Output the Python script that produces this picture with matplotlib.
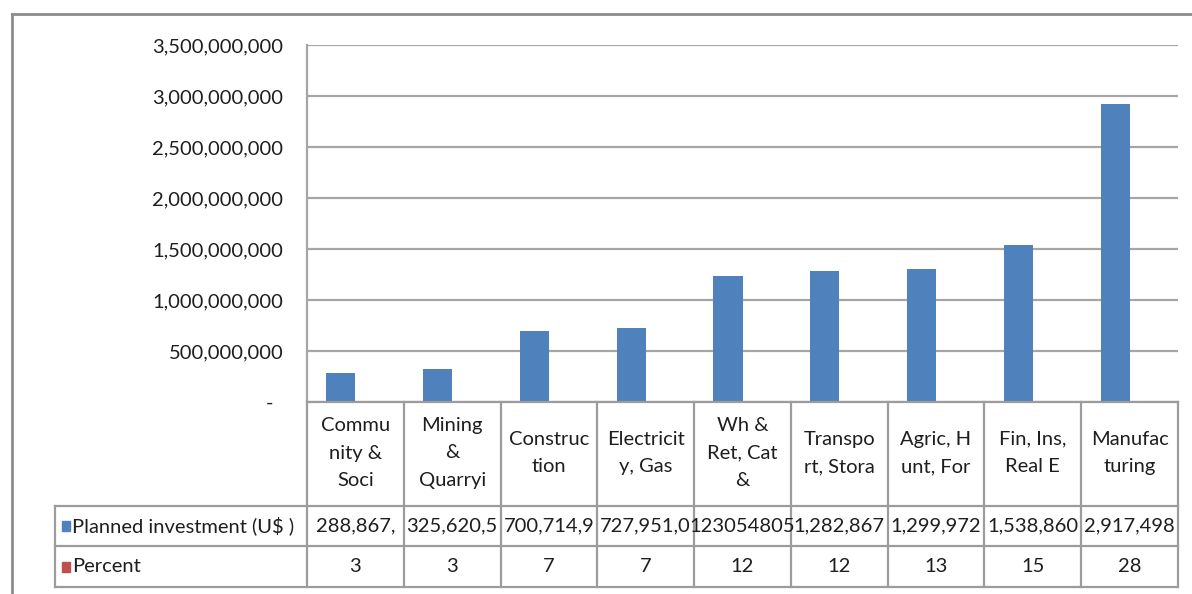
import matplotlib
matplotlib.use('Agg')
import matplotlib.pyplot as plt
from matplotlib.patches import Rectangle
from matplotlib.ticker import FuncFormatter

sectors = ['Commu\nnity &\nSoci', 'Mining\n&\nQuarryi', 'Construc\ntion', 'Electricit\ny, Gas',
           'Wh &\nRet, Cat\n&', 'Transpo\nrt, Stora', 'Agric, H\nunt, For', 'Fin, Ins,\nReal E',
           'Manufac\nturing']
invest = [288867000, 325620500, 700714900, 727951000, 1230548050,
          1282867000, 1299972000, 1538860000, 2917498000]
invest_txt = ['288,867,', '325,620,5', '700,714,9', '727,951,0', '123054805',
              '1,282,867', '1,299,972', '1,538,860', '2,917,498']
percent = [3, 3, 7, 7, 12, 12, 13, 15, 28]
row_names = ['Planned investment (U$ )', 'Percent']

blue = '#4F81BD'
red = '#C0504D'
grid = '#A6A6A6'
txt = '#1E1E1E'
fs = 14.5
W, H = 1192, 594

plt.rcParams['font.family'] = ['Lato', 'DejaVu Sans']
fig = plt.figure(figsize=(W / 100, H / 100), dpi=100)

# plot area in pixels
x0, x1, ytop, ybot = 307, 1178, 45, 402
ax = fig.add_axes([x0 / W, 1 - ybot / H, (x1 - x0) / W, (ybot - ytop) / H])
n = len(sectors)
xs = list(range(n))
bw = 0.3
ax.bar([x - bw / 2 for x in xs], invest, width=bw, color=blue, zorder=3)
ax.bar([x + bw / 2 for x in xs], percent, width=bw, color=red, zorder=3)
ax.set_xlim(-0.5, n - 0.5)
ax.set_ylim(0, 3500000000)
ax.set_yticks(range(0, 3500000001, 500000000))
ax.yaxis.set_major_formatter(FuncFormatter(lambda v, p: '-  ' if v == 0 else f'{int(v):,}'))
ax.tick_params(axis='y', length=0, pad=17, labelsize=fs, labelcolor=txt)
ax.set_xticks([])
ax.grid(axis='y', color=grid, lw=1.6, zorder=0)
for s in ['top', 'right', 'bottom']:
    ax.spines[s].set_visible(False)
ax.spines['left'].set_color(grid)
ax.spines['left'].set_linewidth(1.6)

# data table drawn in pixel coordinates on an overlay axes
ov = fig.add_axes([0, 0, 1, 1])
ov.set_xlim(0, W)
ov.set_ylim(H, 0)
ov.axis('off')
colw = (x1 - x0) / n
lab_left = 55
r0, r1, r2, r3 = 402, 506, 546, 587
lk = dict(color='#9C9C9C', lw=1.6)
ov.plot([x0, x0], [r0, r3], **lk)
ov.plot([x1, x1], [r0, r3], **lk)
for i in range(1, n):
    ov.plot([x0 + i * colw] * 2, [r0, r3], **lk)
ov.plot([x0, x1], [r0, r0], **lk)
ov.plot([lab_left, x1], [r1, r1], **lk)
ov.plot([lab_left, x1], [r2, r2], **lk)
ov.plot([lab_left, x1], [r3, r3], **lk)
ov.plot([lab_left, lab_left], [r1, r3], **lk)

for i in range(n):
    cx = x0 + (i + 0.5) * colw
    ov.text(cx, (r0 + r1) / 2 - 1, sectors[i], ha='center', va='center', fontsize=fs,
            color=txt, linespacing=1.75)
    ov.text(cx, (r1 + r2) / 2, invest_txt[i], ha='center', va='center', fontsize=fs, color=txt)
    ov.text(cx, (r2 + r3) / 2, str(percent[i]), ha='center', va='center', fontsize=fs, color=txt)

for j, (name, c) in enumerate(zip(row_names, [blue, red])):
    yc = (r1 + r2) / 2 if j == 0 else (r2 + r3) / 2
    ov.add_patch(Rectangle((62, yc - 5), 8, 10, color=c))
    ov.text(72, yc, name, ha='left', va='center', fontsize=fs, color=txt)

# outer chart frame
ov.plot([12, 12], [14, H], color='#8C8C8C', lw=2)
ov.plot([12, W], [14, 14], color='#8C8C8C', lw=2)

fig.savefig('out.png', dpi=100)
